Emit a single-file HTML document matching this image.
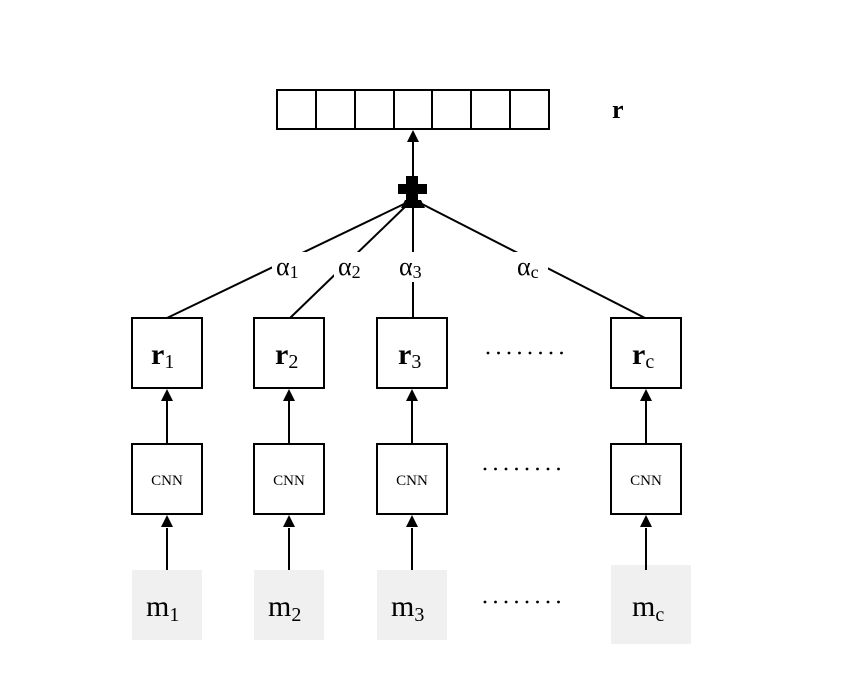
<!DOCTYPE html>
<html><head><style>body{margin:0;background:#fff}</style></head><body>
<svg width="865" height="679" viewBox="0 0 865 679" xmlns="http://www.w3.org/2000/svg" font-family="Liberation Serif, serif">
<g fill="none" stroke="#000" stroke-width="2">
<rect x="277" y="90" width="272" height="39"/>
<line x1="316" y1="90" x2="316" y2="129"/><line x1="355" y1="90" x2="355" y2="129"/><line x1="394" y1="90" x2="394" y2="129"/><line x1="432" y1="90" x2="432" y2="129"/><line x1="471" y1="90" x2="471" y2="129"/><line x1="510" y1="90" x2="510" y2="129"/>
<line x1="413" y1="180" x2="413" y2="140"/>
<line x1="167" y1="318" x2="404" y2="204"/>
<line x1="290" y1="318" x2="408" y2="204"/>
<line x1="413" y1="318" x2="413" y2="204"/>
<line x1="645" y1="318" x2="422" y2="204"/>
<rect x="132" y="318" width="70" height="70"/><rect x="254" y="318" width="70" height="70"/><rect x="377" y="318" width="70" height="70"/><rect x="611" y="318" width="70" height="70"/>
<rect x="132" y="444" width="70" height="70"/><rect x="254" y="444" width="70" height="70"/><rect x="377" y="444" width="70" height="70"/><rect x="611" y="444" width="70" height="70"/>
<line x1="167" y1="444" x2="167" y2="398"/><line x1="289" y1="444" x2="289" y2="398"/><line x1="412" y1="444" x2="412" y2="398"/><line x1="646" y1="444" x2="646" y2="398"/>
</g>
<g fill="#000">
<path d="M413,130 l-6,12 h12 Z"/>
<path d="M167,389 l-6,12 h12 Z"/><path d="M289,389 l-6,12 h12 Z"/><path d="M412,389 l-6,12 h12 Z"/><path d="M646,389 l-6,12 h12 Z"/>
<path d="M167,515 l-6,12 h12 Z"/><path d="M289,515 l-6,12 h12 Z"/><path d="M412,515 l-6,12 h12 Z"/><path d="M646,515 l-6,12 h12 Z"/>
<path d="M406,176 h12 v8 h9 v10 h-9 v8 h-12 v-8 h-8 v-10 h8 Z"/>
<path d="M401,208 l4,-8 h16 l4,8 Z"/>
</g>
<g fill="#fff">
<rect x="272" y="252" width="34" height="30"/><rect x="334" y="252" width="34" height="30"/><rect x="397" y="252" width="32" height="30"/><rect x="514" y="252" width="34" height="30"/>
</g>
<g font-size="26" fill="#000">
<text x="276" y="275">α<tspan font-size="18" dy="3">1</tspan></text>
<text x="338" y="275">α<tspan font-size="18" dy="3">2</tspan></text>
<text x="399" y="275">α<tspan font-size="18" dy="3">3</tspan></text>
<text x="517" y="275">α<tspan font-size="18" dy="3">c</tspan></text>
</g>
<text x="612" y="118" font-size="26" font-weight="bold">r</text>
<g font-size="30">
<text x="151" y="364"><tspan font-weight="bold">r</tspan><tspan font-size="20" dy="4">1</tspan></text>
<text x="275" y="364"><tspan font-weight="bold">r</tspan><tspan font-size="20" dy="4">2</tspan></text>
<text x="398" y="364"><tspan font-weight="bold">r</tspan><tspan font-size="20" dy="4">3</tspan></text>
<text x="632" y="364"><tspan font-weight="bold">r</tspan><tspan font-size="20" dy="4">c</tspan></text>
</g>
<g font-size="15" text-anchor="middle">
<text x="167" y="485">CNN</text><text x="289" y="485">CNN</text><text x="412" y="485">CNN</text><text x="646" y="485">CNN</text>
</g>
<g fill="#f0f0f0">
<rect x="132" y="570" width="70" height="70"/><rect x="254" y="570" width="70" height="70"/><rect x="377" y="570" width="70" height="70"/><rect x="611" y="565" width="80" height="79"/>
</g>
<g stroke="#000" stroke-width="2" fill="none">
<line x1="167" y1="528" x2="167" y2="570"/><line x1="289" y1="528" x2="289" y2="570"/><line x1="412" y1="528" x2="412" y2="570"/><line x1="646" y1="528" x2="646" y2="570"/>
</g>
<g font-size="30">
<text x="146" y="616">m<tspan font-size="20" dy="5">1</tspan></text>
<text x="268" y="616">m<tspan font-size="20" dy="5">2</tspan></text>
<text x="391" y="616">m<tspan font-size="20" dy="5">3</tspan></text>
<text x="632" y="616">m<tspan font-size="20" dy="5">c</tspan></text>
</g>
<g fill="#000">
<g id="d"><circle cx="488" cy="353" r="1.4"/><circle cx="498.5" cy="353" r="1.4"/><circle cx="509" cy="353" r="1.4"/><circle cx="519.5" cy="353" r="1.4"/><circle cx="530" cy="353" r="1.4"/><circle cx="540.5" cy="353" r="1.4"/><circle cx="551" cy="353" r="1.4"/><circle cx="561.5" cy="353" r="1.4"/></g>
<use href="#d" x="-3" y="116"/><use href="#d" x="-3" y="249"/>
</g>
</svg>
</body></html>
